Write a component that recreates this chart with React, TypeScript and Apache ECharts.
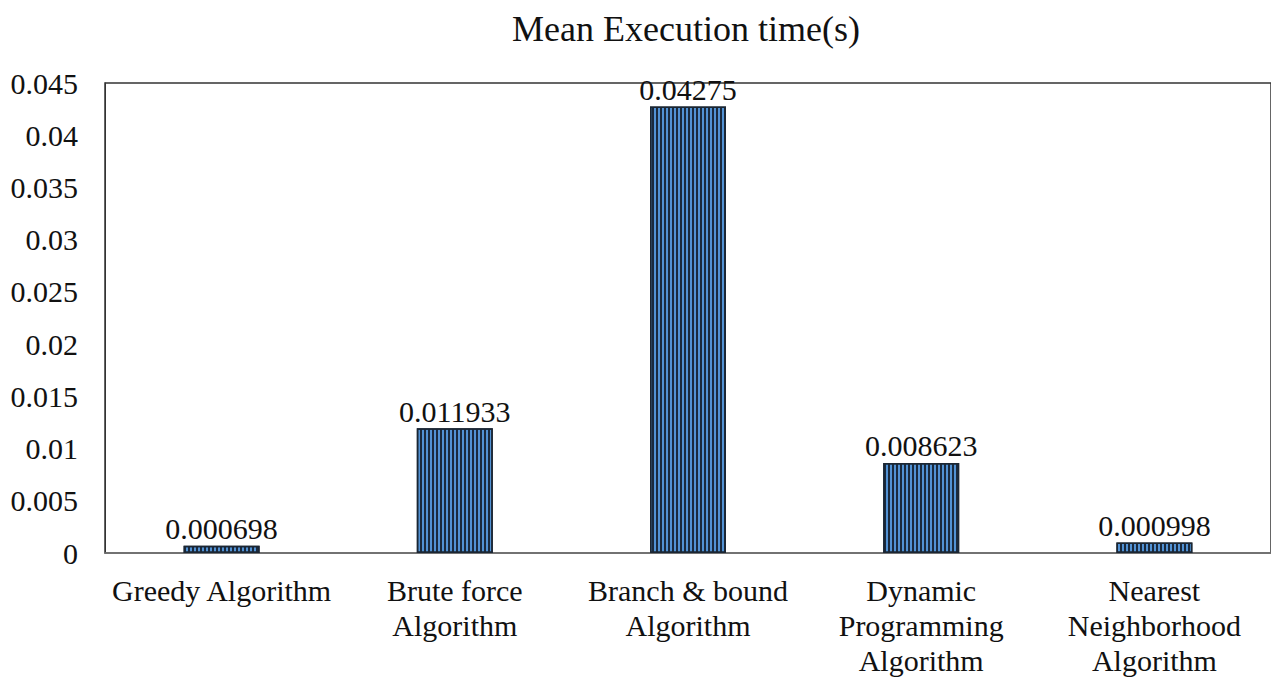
import React, { useEffect, useRef } from "react";
import * as echarts from "echarts";

const categories = [
  "Greedy Algorithm",
  "Brute force\nAlgorithm",
  "Branch & bound\nAlgorithm",
  "Dynamic\nProgramming\nAlgorithm",
  "Nearest\nNeighborhood\nAlgorithm",
];
const meanTimes = [0.000698, 0.011933, 0.04275, 0.008623, 0.000998];
const yTicks = { min: 0, max: 0.045, interval: 0.005 };
const chartTitle = "Mean Execution time(s)";

const FONT = "'Liberation Serif', 'Times New Roman', serif";

export default function App() {
  const ref = useRef<HTMLDivElement>(null);
  useEffect(() => {
    if (!ref.current) return;
    const chart = echarts.init(ref.current, null, { renderer: "svg" });
    chart.setOption({
      animation: false,
      graphic: [
        {
          type: "text",
          x: 686,
          y: 29,
          style: {
            text: chartTitle,
            x: 0,
            y: 0,
            align: "center",
            verticalAlign: "middle",
            fontFamily: FONT,
            fontSize: 36,
            fill: "#111",
          },
        },
      ],
      grid: {
        left: 105,
        right: -4,
        top: 83,
        bottom: 121,
        show: true,
        borderColor: "#333",
        borderWidth: 1.5,
        containLabel: false,
      },
      xAxis: {
        type: "category",
        data: categories,
        axisLine: { show: true, lineStyle: { color: "#777", width: 1.5 } },
        axisTick: { show: false },
        axisLabel: {
          fontFamily: FONT,
          fontSize: 30,
          color: "#111",
          margin: 20,
          lineHeight: 35,
          interval: 0,
        },
      },
      yAxis: {
        type: "value",
        min: yTicks.min,
        max: yTicks.max,
        interval: yTicks.interval,
        splitLine: { show: false },
        axisLine: { show: true, lineStyle: { color: "#333" } },
        axisTick: { show: false },
        axisLabel: {
          fontFamily: FONT,
          fontSize: 30,
          color: "#111",
          margin: 27,
          formatter: (v: number) => String(parseFloat(v.toFixed(3))),
        },
      },
      series: [
        {
          type: "bar",
          data: meanTimes,
          barWidth: 76,
          itemStyle: {
            color: "#5292d4",
            borderColor: "#1b2633",
            borderWidth: 1.5,
            decal: {
              symbol: "rect",
              color: "#1a2a3e",
              dashArrayX: [1.6, 2],
              dashArrayY: [10, 0],
              symbolSize: 1,
              rotation: 0,
            },
          },
          label: {
            show: true,
            position: "top",
            distance: 2,
            fontFamily: FONT,
            fontSize: 30,
            color: "#111",
            formatter: (p: any) => String(p.value),
          },
        },
      ],
    });
    return () => chart.dispose();
  }, []);
  return (
    <div
      ref={ref}
      style={{ position: "fixed", left: 0, top: 0, width: 1271, height: 678, background: "#fff" }}
    />
  );
}
